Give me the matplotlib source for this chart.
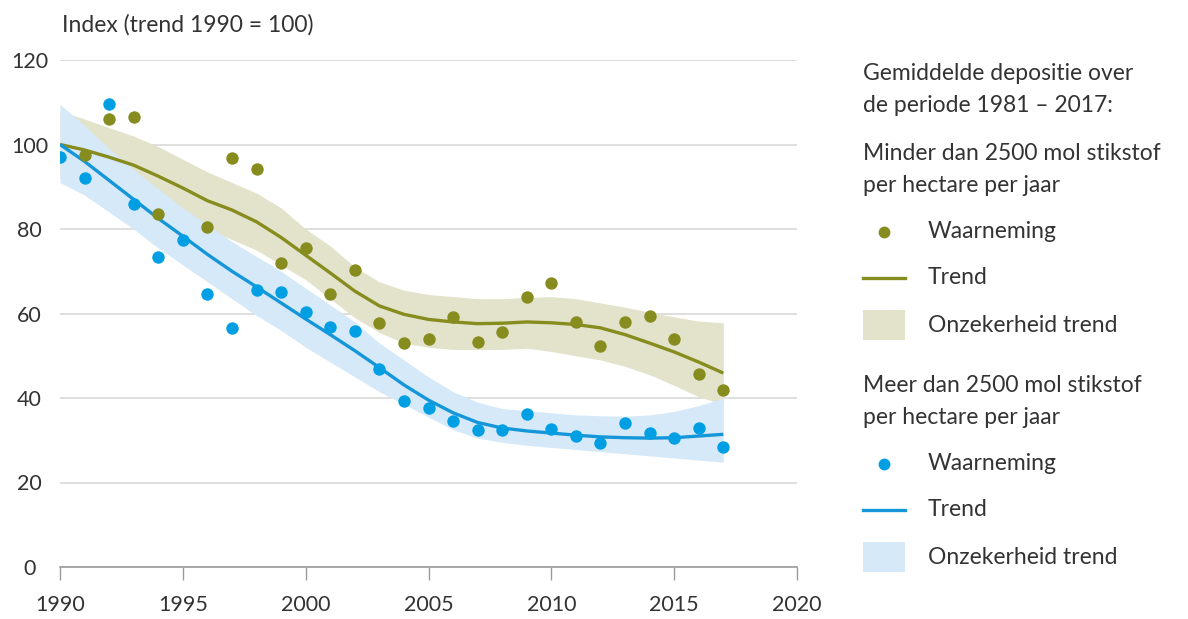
import matplotlib.pyplot as plt
import matplotlib.patches as mpatches
from matplotlib.lines import Line2D
import numpy as np

plt.rcParams['font.family'] = ['Lato', 'DejaVu Sans']

years = list(range(1990, 2018))

# waarnemingen, minder dan 2500 mol (olijfgroen); None = geen punt zichtbaar
laag_obs = [None, 97.5, 106, 106.5, 83.5, None, 80.5, 96.7, 94.3, 72, 75.5, 64.6, 70.3, 57.8,
            53, 54, 59.2, 53.3, 55.6, 64, 67.3, 58, 52.3, 58, 59.4, 54, 45.7, 41.8]
laag_trend = [100, 98.7, 97, 95.1, 92.5, 89.7, 86.7, 84.5, 81.7, 78, 73.8, 69.6, 65.3, 61.8,
              59.8, 58.6, 58, 57.6, 57.7, 58, 57.8, 57.4, 56.6, 55, 53, 50.9, 48.5, 45.9]
laag_hoog = [108, 106, 104, 102, 99.5, 96.5, 93.5, 91, 88.5, 85, 80, 76, 71, 67.5,
             65.5, 64.5, 64, 63.5, 63.5, 63.8, 64, 63.5, 62.5, 61.5, 60.3, 59.2, 58.2, 57.8]
laag_laag = [92, 91, 89.5, 88, 85.5, 83, 80, 77.5, 75, 71.5, 68, 63.5, 59, 55.5,
             53, 52, 51.5, 51.5, 51.5, 51.8, 51, 50, 49, 47.5, 45.5, 43, 40.3, 38.5]

# meer dan 2500 mol (blauw)
hoog_obs = [97, 92, 109.6, 86, 73.4, 77.4, 64.6, 56.6, 65.6, 65, 60.4, 56.8, 55.9, 46.8,
            39.3, 37.6, 34.6, 32.4, 32.4, 36.2, 32.7, 31, 29.3, 34.1, 31.7, 30.5, 32.8, 28.3]
hoog_trend = [100, 96, 91.5, 87, 82.5, 78.3, 74, 70, 66.3, 62.5, 58.7, 55, 51.2, 47.2,
              43.1, 39.5, 36.5, 34.2, 32.9, 32.2, 31.7, 31.2, 30.8, 30.6, 30.5, 30.6, 31, 31.4]
hoog_hoog = [109.5, 104.5, 99, 94, 89.5, 85, 81, 77, 73.5, 70, 66, 62, 58, 53,
             49, 45, 41.5, 39, 37.5, 37, 36.5, 36, 35.8, 35.7, 36, 36.8, 38.2, 40]
hoog_laag = [91, 88, 84, 80, 75.5, 71.5, 67.5, 63.5, 59.5, 56, 52, 48.5, 45, 41.5,
             38.5, 35.5, 32.5, 30.5, 29.5, 28.8, 28.3, 27.8, 27.3, 26.8, 26.3, 25.8, 25.3, 24.8]

olijf = '#878c1e'
olijf_band = '#e3e3cb'
blauw = '#009fe3'
blauw_lijn = '#1596d8'
blauw_band = '#d6e9f9'
tekst = '#333333'

fig = plt.figure(figsize=(11.88, 6.19), dpi=100)
ax = fig.add_axes([60 / 1188, 52 / 619, 737 / 1188, 507 / 619])

ax.fill_between(years, laag_laag, laag_hoog, color=olijf_band, lw=0, zorder=1)
ax.fill_between(years, hoog_laag, hoog_hoog, color=blauw_band, lw=0, zorder=2)
ax.plot(years, laag_trend, color=olijf, lw=2.4, zorder=3, solid_capstyle='butt',
        solid_joinstyle='round')
ax.plot(years, hoog_trend, color=blauw_lijn, lw=2.4, zorder=3, solid_capstyle='butt',
        solid_joinstyle='round')

lo = np.array([np.nan if v is None else v for v in laag_obs])
ax.scatter(years, lo, s=80, color=olijf, lw=0, zorder=4)
ax.scatter(years, hoog_obs, s=80, color=blauw, lw=0, zorder=5)

ax.set_xlim(1990, 2020)
ax.set_ylim(0, 120)
ax.set_xticks(range(1990, 2021, 5))
ax.set_yticks(range(0, 121, 20))
ax.grid(axis='y', color='#dcdcdc', lw=1.3, zorder=0)
ax.set_axisbelow(True)
for s in ['top', 'right', 'left']:
    ax.spines[s].set_visible(False)
ax.spines['bottom'].set_color('#9a9a9a')
ax.spines['bottom'].set_linewidth(1.2)
ax.tick_params(axis='x', length=9, width=1, color='#9a9a9a', pad=11,
               labelsize=15.5, labelcolor=tekst)
ax.tick_params(axis='y', length=0, pad=22, labelsize=15.5, labelcolor=tekst)
for lab in ax.get_yticklabels():
    lab.set_ha('center')

fig.text(62 / 1188, 1 - 25 / 619, 'Index (trend 1990 = 100)', fontsize=16.5,
         color=tekst, va='center', ha='left')

# legenda
def fy(y):
    return 1 - y / 619


def fx(x):
    return x / 1188


tx = fx(863)
lx = fx(928)
fs = 16.5
fig.text(tx, fy(73), 'Gemiddelde depositie over', fontsize=fs, color=tekst, va='center')
fig.text(tx, fy(105), 'de periode 1981 – 2017:', fontsize=fs, color=tekst, va='center')

blokken = [
    (153, 'Minder dan 2500 mol stikstof', olijf, olijf, olijf_band),
    (385, 'Meer dan 2500 mol stikstof', blauw, blauw_lijn, blauw_band),
]
for y0, titel, pc, lc, bc in blokken:
    fig.text(tx, fy(y0), titel, fontsize=fs, color=tekst, va='center')
    fig.text(tx, fy(y0 + 32), 'per hectare per jaar', fontsize=fs, color=tekst, va='center')
    fig.add_artist(Line2D([fx(884)], [fy(y0 + 79)], marker='o', ms=7.5, color=pc, lw=0))
    fig.text(lx, fy(y0 + 78), 'Waarneming', fontsize=fs, color=tekst, va='center')
    fig.add_artist(Line2D([fx(863), fx(905)], [fy(y0 + 125)] * 2, color=lc, lw=2.4))
    fig.text(lx, fy(y0 + 125), 'Trend', fontsize=fs, color=tekst, va='center')
    fig.add_artist(mpatches.Rectangle((fx(863), fy(y0 + 187)), fx(42), 30 / 619,
                                      color=bc, lw=0, transform=fig.transFigure))
    fig.text(lx, fy(y0 + 172), 'Onzekerheid trend', fontsize=fs, color=tekst, va='center')

fig.savefig('out.png', dpi=100)
